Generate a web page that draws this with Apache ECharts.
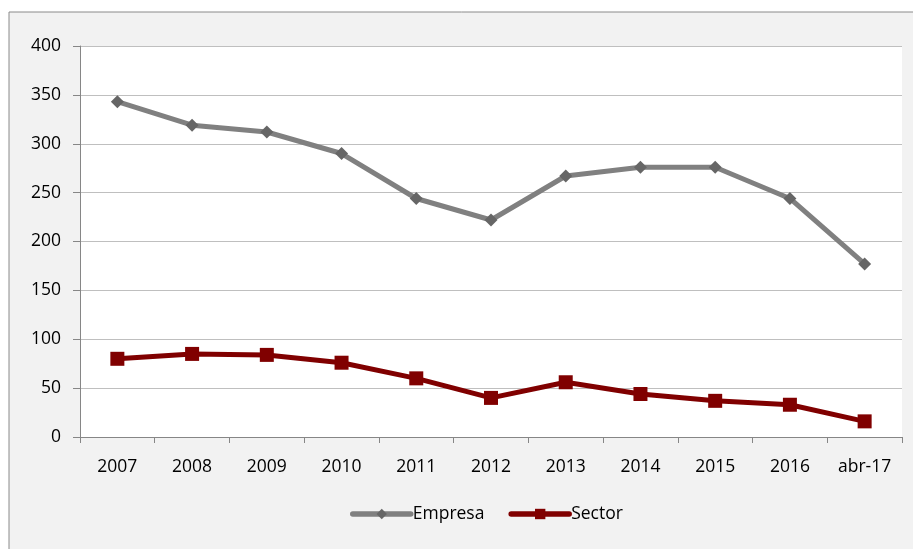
<!DOCTYPE html>
<html>
<head>
<meta charset="utf-8">
<script src="https://cdn.jsdelivr.net/npm/echarts@6/dist/echarts.min.js"></script>
<style>
  html, body { margin: 0; padding: 0; background: #fff; }
  #chart { width: 913px; height: 549px; }
</style>
</head>
<body>
<div id="chart"></div>
<script>
  var categories = ['2007', '2008', '2009', '2010', '2011', '2012', '2013', '2014', '2015', '2016', 'abr-17'];
  var empresa = [343, 319, 312, 290, 244, 222, 267, 276, 276, 244, 177];
  var sector = [80, 85, 84, 76, 60, 40, 56, 44, 37, 33, 16];
  var yTicks = [0, 50, 100, 150, 200, 250, 300, 350, 400];

  var font = 'Open Sans, Noto Sans, sans-serif';
  var myChart = echarts.init(document.getElementById('chart'));
  myChart.setOption({
    backgroundColor: '#ffffff',
    animation: false,
    graphic: [
      {
        type: 'rect',
        z: -10,
        shape: { x: 9, y: 12, width: 920, height: 560 },
        style: { fill: '#f2f2f2', stroke: '#8a8a8a', lineWidth: 1 }
      }
    ],
    grid: {
      left: 80,
      right: 11,
      top: 46,
      bottom: 112,
      show: true,
      backgroundColor: '#ffffff',
      borderWidth: 0
    },
    legend: {
      bottom: 21,
      left: 345,
      itemWidth: 58,
      itemHeight: 13,
      itemGap: 24,
      lineStyle: { width: 5.5, cap: 'round' },
      textStyle: { color: '#000', fontSize: 17.5, fontFamily: font, padding: [0, 0, 0, -3] },
      data: ['Empresa', 'Sector']
    },
    xAxis: {
      type: 'category',
      data: categories,
      boundaryGap: true,
      axisLine: { lineStyle: { color: '#868686', width: 1 } },
      axisTick: { show: true, length: 6, alignWithLabel: false, lineStyle: { color: '#868686' } },
      axisLabel: { color: '#000', fontSize: 17.5, fontFamily: font, margin: 21 },
      splitLine: { show: false }
    },
    yAxis: {
      type: 'value',
      min: 0,
      max: 400,
      interval: 50,
      axisLine: { show: true, lineStyle: { color: '#868686', width: 1 } },
      axisTick: { show: true, length: 7, lineStyle: { color: '#868686' } },
      axisLabel: {
        color: '#000', fontSize: 17.5, fontFamily: font, margin: 19,
        formatter: function (v) { return yTicks.indexOf(v) >= 0 ? String(v) : ''; }
      },
      splitLine: { lineStyle: { color: '#bfbfbf', width: 1 } }
    },
    series: [
      {
        name: 'Empresa',
        type: 'line',
        data: empresa,
        symbol: 'diamond',
        symbolSize: 13,
        lineStyle: { color: '#808080', width: 5 },
        itemStyle: { color: '#666666' },
        z: 3
      },
      {
        name: 'Sector',
        type: 'line',
        data: sector,
        symbol: 'rect',
        symbolSize: 14,
        lineStyle: { color: '#800000', width: 5 },
        itemStyle: { color: '#800000' },
        z: 3
      }
    ]
  });
</script>
</body>
</html>
